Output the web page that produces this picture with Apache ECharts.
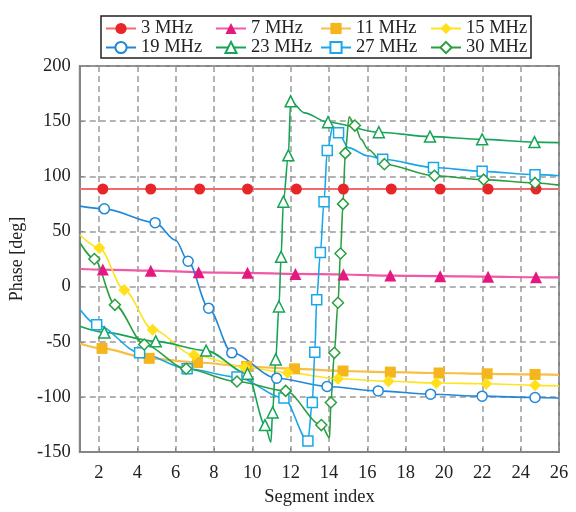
<!DOCTYPE html>
<html>
<head>
<meta charset="utf-8">
<script src="https://cdn.jsdelivr.net/npm/echarts@6/dist/echarts.min.js"></script>
<style>html,body{margin:0;padding:0;background:#fff}#c{width:576px;height:512px}</style>
</head>
<body>
<div id="c"></div>
<script>
// x tick labels (segment index) and y range
const xTicks = [2, 4, 6, 8, 10, 12, 14, 16, 18, 20, 22, 24, 26];
const seriesNames = ['3 MHz', '7 MHz', '11 MHz', '15 MHz', '19 MHz', '23 MHz', '27 MHz', '30 MHz'];

// [segment index, phase (deg), marker shown 1/0]
const s3 = [[1,88.5,0],[2.2,88.5,1],[4.7,88.5,1],[7.25,88.5,1],[9.75,88.5,1],[12.3,88.5,1],[14.75,88.5,1],[17.25,88.5,1],[19.8,88.5,1],[22.3,88.5,1],[24.8,88.5,1],[26,88.5,0]];
const s7 = [[1,16,0],[2.2,15.5,1],[4.7,14.5,1],[7.2,13,1],[9.75,12.5,1],[12.25,11.5,1],[14.75,11,1],[17.2,10,1],[19.8,9.5,1],[22.3,9,1],[24.8,8.5,1],[26,8.3,0]];
const s11 = [[1,-51.5,0],[2.16,-56,1],[4.62,-65,1],[7.14,-68.8,1],[9.7,-72.4,1],[12.2,-74.5,1],[14.73,-76.5,1],[17.2,-77.5,1],[19.74,-78.3,1],[22.25,-79,1],[24.75,-79.6,1],[26,-80,0]];
const s15 = [[1,47,0],[2.02,35,1],[3.32,-3,1],[4.8,-39,1],[6.95,-62,1],[9.6,-73,1],[11.84,-78,1],[14.47,-83.5,1],[17.1,-85.8,1],[19.6,-87.4,1],[22.2,-88,1],[24.75,-89.5,1],[26,-90,0]];
const s19 = [[1,73,0],[2.28,70.5,1],[4.93,58,1],[6.0,42,0],[6.65,23,1],[7.72,-19.5,1],[8.93,-60,1],[11.27,-83,1],[13.9,-90.5,1],[16.57,-94.5,1],[19.3,-97.5,1],[21.99,-99.3,1],[24.75,-100.5,1],[26,-101,0]];
const s23 = [[1,-36,0],[2.28,-41.5,1],[4.96,-49.6,1],[7.59,-58,1],[9.75,-79,1],[10.66,-125.5,1],[10.97,-141,0],[11.06,-114,1],[11.22,-66,1],[11.39,-18,1],[11.5,27,1],[11.62,77,1],[11.88,119,1],[12.0,168,1],[12.72,157.5,0],[13.95,149,1],[16.6,140,1],[19.27,136,1],[21.99,133.5,1],[24.72,131,1],[26,130.5,0]];
const s27 = [[1,-20.5,0],[1.88,-34.5,1],[4.12,-60,1],[6.6,-74.5,1],[9.2,-82,1],[11.65,-101,1],[12.9,-140,1],[13.13,-105,1],[13.26,-59.5,1],[13.36,-12,1],[13.55,31,1],[13.74,77,1],[13.91,123.5,1],[14.2,145,0],[14.5,139.5,1],[15.0,126,0],[16.03,118.6,0],[16.8,115.5,1],[19.45,108,1],[21.99,104.5,1],[24.75,101.5,1],[26,100.5,0]];
const s30 = [[1,40,0],[1.76,25,1],[2.83,-16.5,1],[4.36,-52.5,1],[6.55,-74.5,1],[9.2,-86,1],[11.74,-94.5,1],[13.6,-125.5,1],[14.03,-137,0],[14.1,-105,1],[14.28,-60,1],[14.47,-14.6,1],[14.6,30,1],[14.73,75,1],[14.85,121,1],[15.05,154,0],[15.35,146,1],[15.68,133.5,0],[16.03,124.6,0],[16.89,111,1],[19.5,100.5,1],[22.07,97,1],[24.75,94,1],[26,92,0]];

const FONT = 'Liberation Serif';
function mk(points) {
  return points.map(p => p[2] ? [p[0], p[1]] : { value: [p[0], p[1]], symbol: 'none' });
}
function line(name, pts, symbol, size, color, lineColor, lw, filled) {
  return {
    name: name, type: 'line', data: mk(pts), symbol: symbol, symbolSize: size,
    smooth: 0.3, smoothMonotone: 'x',
    lineStyle: { color: lineColor, width: lw },
    itemStyle: filled ? { color: color, borderColor: color, borderWidth: 0 }
                      : { color: '#ffffff', borderColor: color, borderWidth: 1.5 },
    color: color,
    emphasis: { disabled: true }, z: 3
  };
}
const series = [
  line(seriesNames[0], s3, 'circle', 11, '#e8262a', '#f06c6c', 2.2, true),
  line(seriesNames[1], s7, 'triangle', 12, '#e5187f', '#ef5aa6', 2.2, true),
  line(seriesNames[2], s11, 'rect', 11, '#f5b51e', '#f7be48', 2.2, true),
  line(seriesNames[3], s15, 'diamond', 12, '#ffe01a', '#ffe31f', 1.6, true),
  line(seriesNames[4], s19, 'circle', 10, '#2187d6', '#2187d6', 1.6, false),
  line(seriesNames[5], s23, 'triangle', 11, '#17a457', '#17a457', 1.6, false),
  line(seriesNames[6], s27, 'rect', 10, '#1aa7e8', '#1aa7e8', 1.6, false),
  line(seriesNames[7], s30, 'diamond', 11, '#2a9f40', '#2a9f40', 1.6, false)
];
const legendCols = [105, 215, 320, 430];
const legends = legendCols.map((x, i) => ({
  orient: 'vertical', left: x, top: 19, padding: 0, itemGap: 0,
  itemWidth: 30, itemHeight: 14,
  data: [seriesNames[i], seriesNames[i + 4]],
  textStyle: { fontFamily: FONT, fontSize: 18.5, color: '#222', lineHeight: 18 },
  selectedMode: false
}));
const gridStroke = '#858585';
const chart = echarts.init(document.getElementById('c'), null, { renderer: 'canvas' });
chart.setOption({
  animation: false,
  backgroundColor: '#fff',
  legend: legends,
  graphic: [{ type: 'rect', shape: { x: 101, y: 16, width: 430, height: 42 },
              style: { fill: 'none', stroke: '#222', lineWidth: 1.5 }, z: 10 }],
  grid: { left: 77, right: 17, top: 66, bottom: 56, show: true, borderColor: gridStroke, borderWidth: 2, backgroundColor: 'transparent' },
  xAxis: {
    type: 'value', min: 1, max: 26,
    name: 'Segment index', nameLocation: 'middle', nameGap: 35,
    nameTextStyle: { fontFamily: FONT, fontSize: 18.5, color: '#222' },
    axisLine: { show: true, onZero: false, lineStyle: { color: gridStroke, width: 2 } },
    axisTick: { show: true, inside: true, length: 4, customValues: xTicks, lineStyle: { color: gridStroke } },
    axisLabel: { customValues: xTicks, margin: 12, fontFamily: FONT, fontSize: 18.5, color: '#222' },
    splitLine: { show: true, lineStyle: { color: '#9a9a9a', width: 1.5, type: [6, 4] } }
  },
  yAxis: {
    type: 'value', min: -150, max: 200, interval: 50,
    name: 'Phase [deg]', nameLocation: 'middle', nameGap: 42,
    nameTextStyle: { fontFamily: FONT, fontSize: 18, color: '#222' },
    axisLine: { show: true, onZero: false, lineStyle: { color: gridStroke, width: 2 } },
    axisTick: { show: true, inside: true, length: 4, lineStyle: { color: gridStroke } },
    axisLabel: { margin: 9, fontFamily: FONT, fontSize: 18.5, color: '#222' },
    splitLine: { show: true, lineStyle: { color: '#9a9a9a', width: 1.5, type: [6, 4] } }
  },
  series: series
});
</script>
</body>
</html>
